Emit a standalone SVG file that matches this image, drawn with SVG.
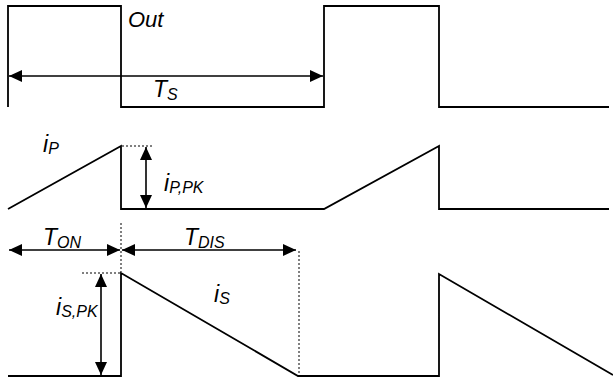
<svg xmlns="http://www.w3.org/2000/svg" width="613" height="380" viewBox="0 0 613 380">
<style>
.w{fill:none;stroke:#000;stroke-width:1.8;stroke-linejoin:miter}
.a{fill:none;stroke:#000;stroke-width:1.6}
.d{fill:none;stroke:#000;stroke-width:1;stroke-dasharray:2,2}
text{font-family:"Liberation Sans",Arial,sans-serif;font-style:italic;fill:#000}
.m{font-size:23px}
.s{font-size:16px}
</style>
<defs>
<marker id="ah" markerUnits="userSpaceOnUse" markerWidth="14" markerHeight="12" refX="13" refY="6" orient="auto-start-reverse">
<path d="M0,0 L13,6 L0,12 Z" fill="#000"/>
</marker>
</defs>
<rect width="613" height="380" fill="#fff"/>
<g id="waveforms">
<path id="out" class="w" d="M8,107 V6 H121 V107 H324 V6 H439 V107 H609"/>
<path id="ip" class="w" d="M8,209 L121,146 V209 H324 L439,146 V209 H609"/>
<path id="is" class="w" d="M8,376 H121 V273 L298,376 H439 V274 L613,375"/>
</g>
<g id="connectors">
<line class="a" x1="9" y1="76" x2="323" y2="76" marker-start="url(#ah)" marker-end="url(#ah)"/>
<line class="a" x1="146" y1="147" x2="146" y2="208" marker-start="url(#ah)" marker-end="url(#ah)"/>
<line class="a" x1="9" y1="250" x2="120" y2="250" marker-start="url(#ah)" marker-end="url(#ah)"/>
<line class="a" x1="122" y1="250" x2="296" y2="250" marker-start="url(#ah)" marker-end="url(#ah)"/>
<line class="a" x1="101" y1="274" x2="101" y2="375" marker-start="url(#ah)" marker-end="url(#ah)"/>
<line class="d" x1="122" y1="146" x2="153" y2="146"/>
<line class="d" x1="121" y1="223" x2="121" y2="272"/>
<line class="d" x1="82" y1="273" x2="120" y2="273"/>
<line class="d" x1="299" y1="251" x2="299" y2="376"/>
</g>
<g id="labels">
<text x="128" y="27" style="font-size:22px">Out</text>
<text x="153" y="97" class="m">T<tspan class="s" dy="3">S</tspan></text>
<text x="43" y="152" class="m">i<tspan class="s" dy="2">P</tspan></text>
<text x="164" y="191" class="m">i<tspan class="s" dy="2">P,PK</tspan></text>
<text x="43" y="245" class="m">T<tspan class="s" dy="3">ON</tspan></text>
<text x="184" y="245" class="m">T<tspan class="s" dy="3">DIS</tspan></text>
<text x="214" y="302" class="m">i<tspan class="s" dy="2">S</tspan></text>
<text x="56" y="315" class="m">i<tspan class="s" dy="2">S,PK</tspan></text>
</g>
</svg>
